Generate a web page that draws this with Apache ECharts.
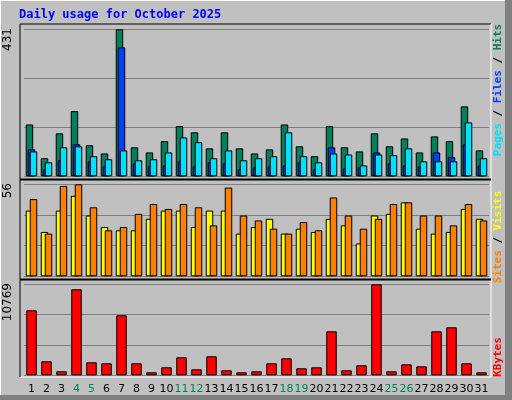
<!DOCTYPE html>
<html><head><meta charset="utf-8">
<script src="https://cdn.jsdelivr.net/npm/echarts@6/dist/echarts.min.js"></script>
<style>html,body{margin:0;padding:0;background:#c0c0c0}#c{width:512px;height:400px}</style>
</head><body><div id="c"></div>
<script>
const days = ['1','2','3','4','5','6','7','8','9','10','11','12','13','14','15','16','17','18','19','20','21','22','23','24','25','26','27','28','29','30','31'];
const weekend = ['4','5','11','12','18','19','25','26'];
const hits  = [152,53,126,191,91,67,431,85,70,103,147,129,82,129,82,67,79,152,88,59,147,85,73,126,88,111,70,117,103,205,76];
const files = [79,20,47,94,44,29,378,38,29,32,44,29,41,38,20,26,29,32,41,20,85,23,26,70,38,32,29,70,56,94,32];
const pages = [73,41,85,88,59,50,76,47,50,70,114,100,53,76,47,53,59,129,59,41,67,64,32,64,62,82,44,44,44,158,53];
const sites = [40,27,40,49,37,30,28,28,35,40,40,30,40,40,26,30,35,26,29,27,35,31,20,37,38,45,29,26,27,41,35];
const visits= [47,26,55,56,42,28,30,38,44,41,44,42,31,54,37,34,29,26,33,28,48,37,29,35,44,45,37,37,31,44,34];
const kbytes= [7693,1657,473,10178,1539,1420,7101,1420,355,947,2130,710,2249,592,355,473,1420,2012,828,947,5207,592,1184,10769,473,1302,1065,5207,5681,1420,355];
const maxHits = 431, maxVisits = 56, maxKB = 10769;
const title = 'Daily usage for October 2025';

const chart = echarts.init(document.getElementById('c'));
const bd = {borderColor:'#000',borderWidth:1};
const grids = [
  {left:24,width:465,top:29.3,height:147},
  {left:24,width:465,top:184.3,height:92},
  {left:24,width:465,top:284.3,height:91}
];
const xAx = i => ({type:'category',data:days,gridIndex:i,boundaryGap:true,
  axisLine:{show:false},axisTick:{show:false},
  axisLabel:{show:i===2,margin:8,fontFamily:'DejaVu Sans',fontSize:11,interval:0,
    color:(v)=>weekend.includes(v)?'#00805c':'#000'}});
const yAx = (i,m) => ({type:'value',gridIndex:i,min:0,max:m,interval:m/3,
  axisLabel:{show:false},axisLine:{show:false},axisTick:{show:false},
  splitLine:{lineStyle:{color:'#808080',width:1}}});
function frame(y1,y2){
  return [
    {type:'rect',shape:{x:20,y:y1,width:471,height:y2-y1},style:{fill:'none',stroke:'#000',lineWidth:1},z:-1},
  ];
}
const vlab = (x,yc,rich,text)=>({type:'text',x:x,y:yc,rotation:Math.PI/2,
  style:{text:text,rich:rich,font:'bold 11px "DejaVu Sans Mono"',align:'center',verticalAlign:'middle'}});
chart.setOption({
  animation:false,
  backgroundColor:'#c0c0c0',
  grid:grids,
  xAxis:[xAx(0),xAx(1),xAx(2)],
  yAxis:[yAx(0,maxHits),yAx(1,maxVisits),yAx(2,maxKB)],
  series:[
    {type:'bar',xAxisIndex:0,yAxisIndex:0,data:hits,barWidth:7.5,barGap:'-73%',itemStyle:{color:'#00805c',...bd}},
    {type:'bar',xAxisIndex:0,yAxisIndex:0,data:files,barWidth:7.5,barGap:'-73%',itemStyle:{color:'#0040ff',...bd}},
    {type:'bar',xAxisIndex:0,yAxisIndex:0,data:pages,barWidth:7.5,barGap:'-73%',itemStyle:{color:'#00e0ff',...bd}},
    {type:'bar',xAxisIndex:1,yAxisIndex:1,data:sites,barWidth:7.5,barGap:'-47%',itemStyle:{color:'#ffff00',...bd}},
    {type:'bar',xAxisIndex:1,yAxisIndex:1,data:visits,barWidth:7.5,barGap:'-47%',itemStyle:{color:'#ff8000',...bd}},
    {type:'bar',xAxisIndex:2,yAxisIndex:2,data:kbytes,barWidth:10.5,itemStyle:{color:'#ff0000',...bd}}
  ],
  graphic:[
    {type:'rect',shape:{x:0,y:0,width:512,height:400},style:{fill:'none',stroke:'#fff',lineWidth:2},z:-2},
    {type:'rect',shape:{x:505,y:0,width:7,height:400},style:{fill:'#808080'},z:-2},
    {type:'rect',shape:{x:0,y:395,width:512,height:5},style:{fill:'#808080'},z:-2},
    {type:'line',shape:{x1:20,y1:24,x2:491,y2:24},style:{stroke:'#000',lineWidth:1}},
    {type:'line',shape:{x1:491,y1:24,x2:491,y2:377},style:{stroke:'#fff',lineWidth:1}},
    {type:'line',shape:{x1:20,y1:377,x2:491,y2:377},style:{stroke:'#fff',lineWidth:1}},
    {type:'line',shape:{x1:20,y1:24,x2:20,y2:377},style:{stroke:'#000',lineWidth:1}},
    {type:'line',shape:{x1:20,y1:179.5,x2:491,y2:179.5},style:{stroke:'#000',lineWidth:2}},
    {type:'line',shape:{x1:20,y1:279.5,x2:491,y2:279.5},style:{stroke:'#000',lineWidth:2}},
    {type:'text',x:19,y:9,style:{text:title,font:'bold 12px "DejaVu Sans Mono"',fill:'#0000ff'}},
    {type:'text',x:8,y:28,rotation:Math.PI/2,style:{text:String(maxHits),font:'12px "DejaVu Sans"',fill:'#000',align:'right',verticalAlign:'middle'}},
    {type:'text',x:8,y:183,rotation:Math.PI/2,style:{text:String(maxVisits),font:'12px "DejaVu Sans"',fill:'#000',align:'right',verticalAlign:'middle'}},
    {type:'text',x:8,y:283,rotation:Math.PI/2,style:{text:String(maxKB),font:'12px "DejaVu Sans"',fill:'#000',align:'right',verticalAlign:'middle'}},
    vlab(498,90,{p:{fill:'#00e0ff'},f:{fill:'#0040ff'},h:{fill:'#00805c'},s:{fill:'#000'}},'{p|Pages}{s| / }{f|Files}{s| / }{h|Hits}'),
    vlab(498,237,{a:{fill:'#ff8000'},b:{fill:'#ffff00'},s:{fill:'#000'}},'{a|Sites}{s| / }{b|Visits}'),
    vlab(498,357,{r:{fill:'#ff0000'}},'{r|KBytes}')
  ]
});
</script></body></html>
